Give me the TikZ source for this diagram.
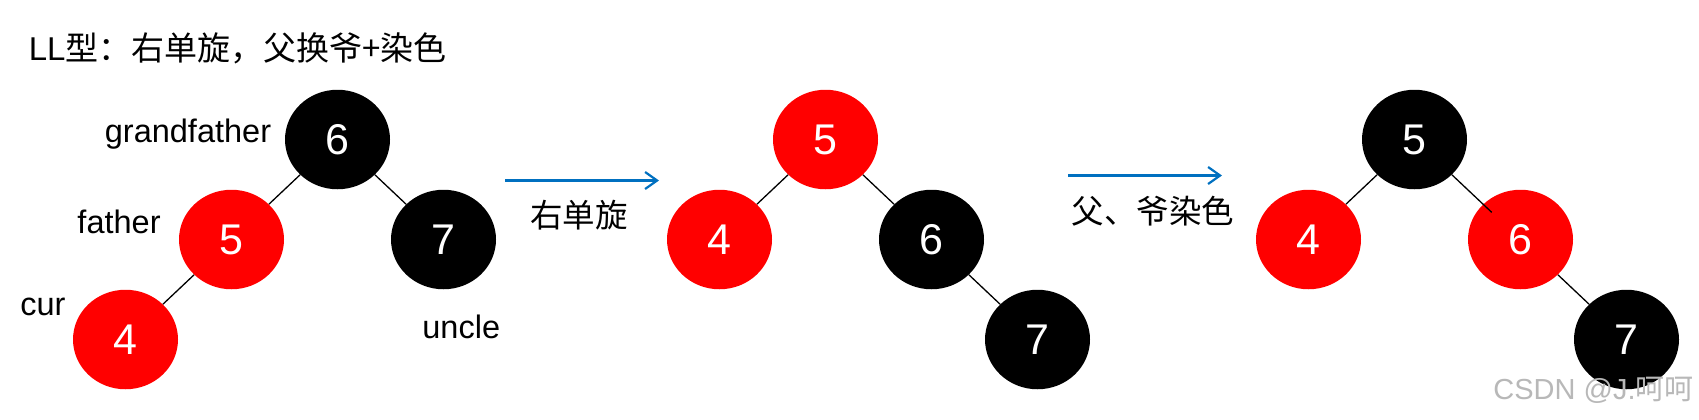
\documentclass[tikz,border=0pt]{standalone}
\usepackage{fontspec}
\setmainfont{Liberation Sans}
\setsansfont{Liberation Sans}
\newfontfamily\cjk{Noto Sans CJK SC}
\usetikzlibrary{shapes.geometric,arrows.meta,positioning}
\definecolor{arrowblue}{RGB}{0,112,192}
\definecolor{rbred}{RGB}{255,0,0}

\begin{document}
\begin{tikzpicture}[
    x=0.5pt, y=-0.5pt,
    font=\sffamily\fontsize{16}{19}\selectfont,
    rbnode/.style={ellipse, minimum width=52.5pt, minimum height=49.75pt, inner sep=0pt, text=white, font=\sffamily\fontsize{21.5}{24}\selectfont},
    rednode/.style={rbnode, fill=rbred},
    blacknode/.style={rbnode, fill=black},
    tag/.style={inner sep=0pt, font=\sffamily\fontsize{16.25}{19}\selectfont},
    link/.style={line width=0.65pt, black},
    turn/.style={arrowblue, line width=1.1pt, -{Straight Barb[length=6pt, width=8.5pt]}},
    node distance=50pt and 53pt, on grid
]
\useasboundingbox (0,0) rectangle (1699,419);

% title
\node[tag, anchor=base west, font=\sffamily\fontsize{16.5}{19}\selectfont] (title) at (28.5,60) {LL\cjk 型：右单旋，父换爷+染色};

% tree before rotation
\node[blacknode] (a6) at (337.5,139.5) {6};
\node[rednode, below left=of a6] (a5) {5};
\node[blacknode, below right=of a6] (a7) {7};
\node[rednode, below left=of a5] (a4) {4};

\node[tag, anchor=base east] (gf) at (271.5,142.7) {grandfather};
\node[tag, anchor=base east] (fa) at (161,233) {father};
\node[tag, anchor=base west] (cur) at (20,315) {cur};
\node[tag, anchor=base west] (un) at (422,338) {uncle};

\draw[link] (a6) -- (a5);
\draw[link] (a6) -- (a7);
\draw[link] (a5) -- (a4);

% right rotation
\coordinate (r1s) at (505,180.5);
\coordinate (r1e) at (659,180.5);
\draw[turn] (r1s) -- (r1e);
\node[tag] (r1lbl) at (579,215) {\cjk 右单旋};

% tree after rotation
\node[rednode] (b5) at (825.5,139.5) {5};
\node[rednode, below left=of b5] (b4) {4};
\node[blacknode, below right=of b5] (b6) {6};
\node[blacknode, below right=of b6] (b7) {7};

\draw[link] (b5) -- (b4);
\draw[link] (b5) -- (b6);
\draw[link] (b6) -- (b7);

% recolouring
\coordinate (r2s) at (1068,175.5);
\coordinate (r2e) at (1222,175.5);
\draw[turn] (r2s) -- (r2e);
\node[tag] (r2lbl) at (1153,211.5) {\cjk 父、爷染色};

% tree after recolouring
\node[blacknode] (c5) at (1414.5,139.5) {5};
\node[rednode, below left=of c5] (c4) {4};
\node[rednode, below right=of c5] (c6) {6};
\node[blacknode, below right=of c6] (c7) {7};

\draw[link] (c5) -- (c4);
\draw[link, shorten >=-6pt] (c5) -- (c6);
\draw[link] (c6) -- (c7);

\node[inner sep=0pt, anchor=east, text=black!28, font=\sffamily\fontsize{14.5}{17}\selectfont] (mark) at (1694,390) {CSDN @J.{\cjk 呵呵}};

\end{tikzpicture}
\end{document}
